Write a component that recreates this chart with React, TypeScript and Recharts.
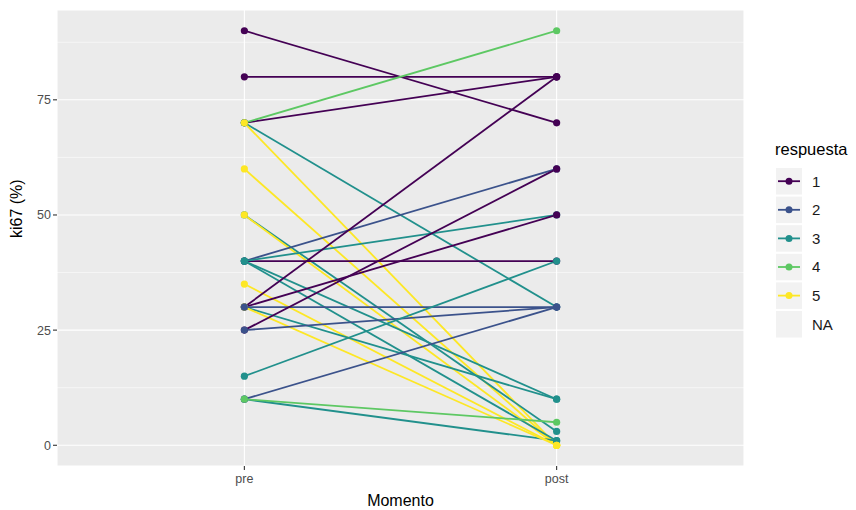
import React from 'react';
import {
  LineChart,
  Line,
  XAxis,
  YAxis,
  CartesianGrid,
  ReferenceLine,
  Label,
} from 'recharts';

// one entry per patient: respuesta, ki67 pre, ki67 post
const respuesta = [1, 1, 1, 4, 3, 5, 5, 3, 5, 2, 1, 3, 3, 3, 3, 5, 1, 1, 3, 5, 2, 1, 2, 3, 2, 4];
const preValues = [90, 80, 70, 70, 70, 70, 60, 50, 50, 40, 40, 40, 40, 40, 10, 35, 30, 30, 30, 30, 30, 25, 25, 15, 10, 10];
const postValues = [70, 80, 80, 90, 30, 0, 0, 3, 0, 60, 40, 50, 10, 1, 1, 0, 80, 50, 10, 0, 30, 60, 30, 40, 30, 5];

const momentos = ['pre', 'post'];
const yTicks = [0, 25, 50, 75];
const yMinor = [12.5, 37.5, 62.5, 87.5];
const legendLevels = ['1', '2', '3', '4', '5', 'NA'];

const viridis: Record<number, string> = {
  1: '#440154',
  2: '#3B528B',
  3: '#21908C',
  4: '#5DC863',
  5: '#FDE725',
};

const data = momentos.map((m, i) => {
  const row: Record<string, number | string> = { x: i + 1, momento: m };
  preValues.forEach((_, p) => {
    row[`p${p}`] = i === 0 ? preValues[p] : postValues[p];
  });
  return row;
});

const FONT = '"Liberation Sans", Arial, sans-serif';

function RespuestaLegend() {
  const pitch = 28.6;
  return (
    <svg width={86} height={200} style={{ fontFamily: FONT, position: 'absolute', left: 770, top: 138 }}>
      <text x={5} y={17} fontSize={16.5} fill="#000">
        respuesta
      </text>
      {legendLevels.map((lvl, i) => {
        const y0 = 30 + i * pitch;
        const col = viridis[i + 1];
        return (
          <g key={lvl}>
            <rect x={6} y={y0} width={26} height={26.5} fill="#F2F2F2" />
            {col && (
              <>
                <line x1={8} x2={30} y1={y0 + 13.2} y2={y0 + 13.2} stroke={col} strokeWidth={1.8} />
                <circle cx={19} cy={y0 + 13.2} r={3.5} fill={col} />
              </>
            )}
            <text x={42} y={y0 + 18.5} fontSize={15} fill="#1A1A1A">
              {lvl}
            </text>
          </g>
        );
      })}
    </svg>
  );
}

export default function App() {
  return (
    <div style={{ position: 'absolute', left: 0, top: 0, width: 856, height: 510, background: '#fff' }}>
      <LineChart
        width={856}
        height={510}
        data={data}
        margin={{ top: 10, right: 112, bottom: 0, left: 0 }}
        style={{ fontFamily: FONT }}
      >
        <CartesianGrid fill="#EBEBEB" stroke="#FFFFFF" strokeWidth={1.1} />
        {yMinor.map((v) => (
          <ReferenceLine key={v} y={v} stroke="#FFFFFF" strokeWidth={0.55} />
        ))}
        <XAxis
          dataKey="x"
          type="number"
          domain={[0.4, 2.6]}
          ticks={[1, 2]}
          tickFormatter={(v: number) => momentos[v - 1]}
          axisLine={false}
          tickLine={{ stroke: '#333333', strokeWidth: 1.1 }}
          tickSize={4}
          tick={{ fill: '#4D4D4D', fontSize: 12.5, dy: 2 }}
          height={44}
          allowDataOverflow
        >
          <Label value="Momento" position="insideBottom" offset={4} fill="#000" fontSize={16} />
        </XAxis>
        <YAxis
          type="number"
          domain={[-4.5, 94.5]}
          ticks={yTicks}
          axisLine={false}
          tickLine={{ stroke: '#333333', strokeWidth: 1.1 }}
          tickSize={4}
          tick={{ fill: '#4D4D4D', fontSize: 12.5 }}
          width={57}
          allowDataOverflow
        >
          <Label value="ki67 (%)" angle={-90} position="insideLeft" offset={16} fill="#000" fontSize={16} />
        </YAxis>
        {preValues.map((_, p) => (
          <Line
            key={`l${p}`}
            dataKey={`p${p}`}
            stroke={viridis[respuesta[p]]}
            strokeWidth={1.8}
            dot={false}
            activeDot={false}
            isAnimationActive={false}
            legendType="none"
          />
        ))}
        {preValues.map((_, p) => (
          <Line
            key={`d${p}`}
            dataKey={`p${p}`}
            stroke="none"
            dot={{ r: 3.6, fill: viridis[respuesta[p]], stroke: 'none' }}
            activeDot={false}
            isAnimationActive={false}
            legendType="none"
          />
        ))}
      </LineChart>
      <RespuestaLegend />
    </div>
  );
}
